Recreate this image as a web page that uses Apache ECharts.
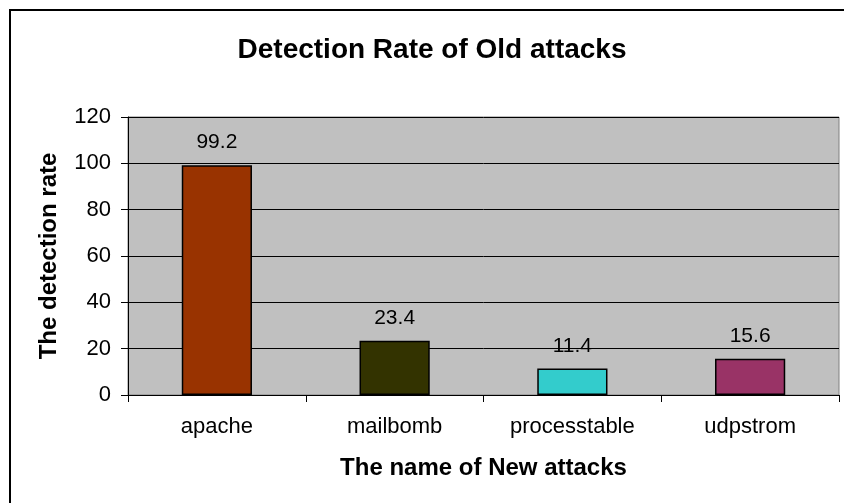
<!DOCTYPE html>
<html>
<head>
<meta charset="utf-8">
<script src="https://cdn.jsdelivr.net/npm/echarts@6/dist/echarts.min.js"></script>
<style>html,body{margin:0;padding:0;background:#fff;}#c{width:844px;height:503px;}</style>
</head>
<body>
<div id="c"></div>
<script>
const categories = ['apache', 'mailbomb', 'processtable', 'udpstrom'];
const values = [99.2, 23.4, 11.4, 15.6];
const barColors = ['#993300', '#333300', '#33CCCC', '#993366'];
const yTicks = [0, 20, 40, 60, 80, 100, 120];

const FONT = 'Arial, "Liberation Sans", sans-serif';
const chart = echarts.init(document.getElementById('c'));
chart.setOption({
  animation: false,
  backgroundColor: '#fff',
  title: {
    text: 'Detection Rate of Old attacks',
    left: 427, top: 31, textAlign: 'center',
    textStyle: { fontFamily: FONT, fontSize: 28, fontWeight: 'bold', color: '#000' }
  },
  graphic: [{
    type: 'rect', shape: { x: 10, y: 10, width: 1000, height: 1000 },
    style: { fill: 'none', stroke: '#000', lineWidth: 2 }, z: 100
  }],
  grid: {
    left: 128, right: 5, top: 117, bottom: 108,
    show: true, backgroundColor: '#C0C0C0', borderColor: '#808080', borderWidth: 1
  },
  xAxis: {
    type: 'category', data: categories,
    name: 'The name of New attacks', nameLocation: 'middle', nameGap: 61,
    nameTextStyle: { fontFamily: FONT, fontSize: 24, fontWeight: 'bold', color: '#000' },
    axisLine: { lineStyle: { color: '#000', width: 1 } },
    axisTick: { show: true, length: 7, lineStyle: { color: '#000' } },
    axisLabel: { fontFamily: FONT, fontSize: 22, color: '#000', margin: 21 }
  },
  yAxis: {
    type: 'value', min: yTicks[0], max: yTicks[yTicks.length - 1], interval: 20,
    name: 'The detection rate', nameLocation: 'middle', nameGap: 67,
    nameTextStyle: { fontFamily: FONT, fontSize: 24, fontWeight: 'bold', color: '#000' },
    axisLine: { show: true, lineStyle: { color: '#000', width: 1 } },
    axisTick: { show: true, length: 7, lineStyle: { color: '#000' } },
    axisLabel: { fontFamily: FONT, fontSize: 22, color: '#000', margin: 17 },
    splitLine: { show: true, lineStyle: { color: '#000', width: 1 } }
  },
  series: [{
    type: 'bar',
    data: values.map((v, i) => ({ value: v, itemStyle: { color: barColors[i] } })),
    barWidth: '39.5%',
    itemStyle: { borderColor: '#000', borderWidth: 1.5 },
    label: { show: true, position: 'top', distance: 12, fontFamily: FONT, fontSize: 21, color: '#000' }
  }]
});
</script>
</body>
</html>
